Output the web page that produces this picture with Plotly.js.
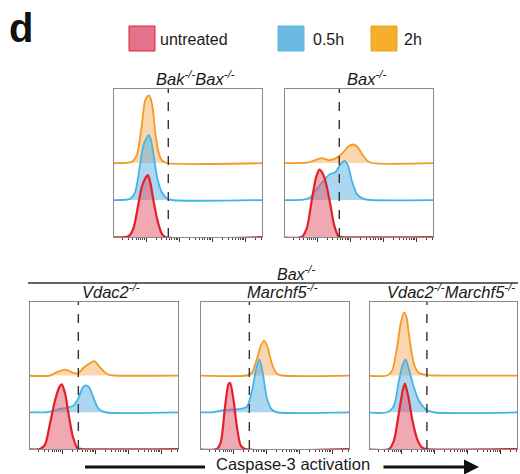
<!DOCTYPE html>
<html>
<head>
<meta charset="utf-8">
<script src="https://cdn.plot.ly/plotly-3.0.1.min.js"></script>
<style>html,body{margin:0;padding:0;background:#fff}#chart{width:520px;height:474px}</style>
</head>
<body>
<div id="chart"></div>
<script>
// ---- categories ----
const panelTitles = ['Bak<sup>-/-</sup>Bax<sup>-/-</sup>', 'Bax<sup>-/-</sup>', 'Vdac2<sup>-/-</sup>', 'Marchf5<sup>-/-</sup>', 'Vdac2<sup>-/-</sup>Marchf5<sup>-/-</sup>'];
const conditions = ['untreated', '0.5h', '2h'];
const groupLabel = 'Bax<sup>-/-</sup>';
const xAxisLabel = 'Caspase-3 activation';
// gate positions (log10 fluorescence)
const gates = [2.67, 2.67, 2.49, 2.49, 2.76];

// ---- histogram values: x = log10 fluorescence, y = counts ----
// Bak-/-Bax-/-
const bakbax_untreated_x = [1.465,1.616,1.768,1.869,1.970,2.051,2.121,2.222,2.343,2.475,2.576];
const bakbax_untreated_y = [2,23,90,135,158,167,149,99,45,9,0];
const bakbax_05h_x = [1.515,1.667,1.798,1.919,2.020,2.081,2.152,2.242,2.343,2.475,2.626,2.778];
const bakbax_05h_y = [3,21,84,147,169,176,160,111,57,21,5,0];
const bakbax_2h_x = [1.566,1.717,1.869,1.970,2.071,2.121,2.202,2.273,2.374,2.475,2.626];
const bakbax_2h_y = [3,21,102,169,183,178,147,84,30,7,0];
// Bax-/-
const bax_untreated_x = [1.535,1.687,1.838,1.970,2.071,2.172,2.273,2.394,2.515,2.646,2.747];
const bax_untreated_y = [0,23,99,162,182,171,144,90,32,2,0];
const bax_05h_x = [1.586,1.788,1.990,2.192,2.394,2.545,2.697,2.818,2.919,3.050,3.202,3.404,3.606];
const bax_05h_y = [1,7,30,52,70,75,95,106,97,52,16,3,0];
const bax_2h_x = [1.687,1.889,2.141,2.343,2.545,2.747,2.949,3.101,3.222,3.353,3.505,3.656];
const bax_2h_y = [1,6,13,8,12,25,45,50,43,25,7,0];
// Bax-/- Vdac2-/-
const vdac2_untreated_x = [1.333,1.485,1.636,1.788,1.919,1.990,2.091,2.192,2.323,2.465,2.596];
const vdac2_untreated_y = [0,12,70,133,169,176,151,97,34,2,0];
const vdac2_05h_x = [1.535,1.737,1.939,2.141,2.343,2.495,2.626,2.727,2.828,2.949,3.101,3.303];
const vdac2_05h_y = [0,4,9,12,18,39,68,73,66,39,9,0];
const vdac2_2h_x = [1.636,1.838,2.091,2.293,2.465,2.646,2.848,2.970,3.101,3.252,3.404,3.555];
const vdac2_2h_y = [0,9,16,9,5,21,34,39,27,12,2,0];
// Bax-/- Marchf5-/-
const marchf5_untreated_x = [1.505,1.626,1.758,1.859,1.909,2.010,2.111,2.232,2.364];
const marchf5_untreated_y = [0,18,117,176,180,135,63,9,0];
const marchf5_05h_x = [1.404,1.657,1.909,2.212,2.414,2.566,2.697,2.798,2.899,3.020,3.172,3.323];
const marchf5_05h_y = [0,5,7,9,15,56,119,144,105,38,7,0];
const marchf5_2h_x = [2.414,2.566,2.717,2.838,2.939,3.040,3.172,3.323,3.475];
const marchf5_2h_y = [0,7,45,81,95,77,32,5,0];
// Bax-/- Vdac2-/-Marchf5-/-
const dko_untreated_x = [1.606,1.758,1.909,2.030,2.091,2.192,2.313,2.465,2.616,2.768];
const dko_untreated_y = [0,23,99,162,178,144,81,27,4,0];
const dko_05h_x = [1.556,1.758,1.909,2.030,2.111,2.212,2.364,2.515,2.717,2.970];
const dko_05h_y = [0,18,86,131,144,117,68,32,9,0];
const dko_2h_x = [1.556,1.707,1.859,1.960,2.061,2.131,2.232,2.364,2.515,2.717,3.020];
const dko_2h_y = [0,14,81,140,171,162,99,32,7,2,0];

const panelData = [
  [[bakbax_untreated_x,bakbax_untreated_y],[bakbax_05h_x,bakbax_05h_y],[bakbax_2h_x,bakbax_2h_y]],
  [[bax_untreated_x,bax_untreated_y],[bax_05h_x,bax_05h_y],[bax_2h_x,bax_2h_y]],
  [[vdac2_untreated_x,vdac2_untreated_y],[vdac2_05h_x,vdac2_05h_y],[vdac2_2h_x,vdac2_2h_y]],
  [[marchf5_untreated_x,marchf5_untreated_y],[marchf5_05h_x,marchf5_05h_y],[marchf5_2h_x,marchf5_2h_y]],
  [[dko_untreated_x,dko_untreated_y],[dko_05h_x,dko_05h_y],[dko_2h_x,dko_2h_y]]
];

// ---- styles / layout ----
const W = 520, H = 474;
const px = v => v / W, py = v => 1 - v / H;
const lineColors = ['#e2202c', '#44b4e6', '#f39a26'];
const fillColors = ['rgba(226,88,108,0.52)', 'rgba(80,172,226,0.48)', 'rgba(245,165,75,0.45)'];
const legendFill = ['#e3738a', '#6cb9e1', '#f6ae2c'];
const legendLine = ['#e2202c', '#55b6e4', '#f0a024'];
const xRange = [1.03, 5.5];
const panelBoxes = [ // left, right, top, bottom in px
  [114, 262, 89, 237], [285, 433, 89, 237],
  [30, 178, 302, 449], [201, 349, 302, 449], [370, 517, 302, 449]
];
const yRanges = [[0, 400], [-100, 300], [-200, 200]]; // untreated, 0.5h, 2h stacked
const FONT = 'Liberation Sans, Arial, sans-serif';

const traces = [];
const layout = {
  width: W, height: H,
  margin: {l: 0, r: 0, t: 0, b: 0},
  paper_bgcolor: '#fff', plot_bgcolor: 'rgba(0,0,0,0)',
  showlegend: false,
  font: {family: FONT, color: '#1a1a1a'},
  shapes: [], annotations: []
};

panelBoxes.forEach((b, p) => {
  const xn = p + 1;
  const xa = 'xaxis' + (xn === 1 ? '' : xn);
  const xid = 'x' + (xn === 1 ? '' : xn);
  const yBase = 3 * p + 1;
  const yid = n => 'y' + (n === 1 ? '' : n);
  const yax = n => 'yaxis' + (n === 1 ? '' : n);
  layout[xa] = {
    type: 'log', range: xRange, domain: [px(b[0]), px(b[1])], anchor: yid(yBase),
    showline: true, mirror: true, linecolor: '#8a8a8a', linewidth: 1,
    ticks: 'outside', ticklen: 4, tickwidth: 1, tickcolor: '#333', dtick: 1,
    minor: {ticks: 'outside', ticklen: 2, tickwidth: 1, tickcolor: '#444', showgrid: false},
    showticklabels: false, showgrid: false, zeroline: false, layer: 'below traces', fixedrange: true
  };
  // stacking: 2h (base), 0.5h, untreated drawn on top
  [2, 1, 0].forEach((c, k) => {
    const n = yBase + k;
    const ax = {
      domain: [py(b[3]), py(b[2])], range: yRanges[c], anchor: xid,
      showgrid: false, zeroline: false, showticklabels: false, ticks: '', fixedrange: true
    };
    if (k === 0) {
      Object.assign(ax, {showline: true, mirror: true, linecolor: '#8a8a8a', linewidth: 1, layer: 'below traces'});
    } else {
      Object.assign(ax, {overlaying: yid(yBase), visible: false});
    }
    layout[yax(n)] = ax;
    const d = panelData[p][c];
    const xs = [Math.pow(10, xRange[0] - 0.2)].concat(d[0].map(v => Math.pow(10, v)), [Math.pow(10, xRange[1] + 0.2)]);
    const ys = [0].concat(d[1], [0]);
    traces.push({
      x: xs, y: ys, xaxis: xid, yaxis: yid(n), type: 'scatter', mode: 'lines',
      line: {color: lineColors[c], width: c === 0 ? 2.2 : 1.8, shape: 'spline', smoothing: 0.7},
      fill: 'tozeroy', fillcolor: fillColors[c], hoverinfo: 'skip', name: conditions[c]
    });
  });
  // gate line (dashed), drawn on the top-most (untreated) axis
  const gx = Math.pow(10, gates[p]);
  traces.push({
    x: [gx, gx], y: [yRanges[0][0], yRanges[0][1]], xaxis: xid, yaxis: yid(yBase + 2),
    type: 'scatter', mode: 'lines', line: {color: '#333', width: 1.4, dash: 'dash'},
    hoverinfo: 'skip', name: 'gate', cliponaxis: true
  });
  // panel title
  layout.annotations.push({
    xref: 'paper', yref: 'paper', x: px((b[0] + b[1]) / 2 + 7), y: py(b[2] - 11),
    xanchor: 'center', yanchor: 'middle', showarrow: false,
    text: '<i>' + panelTitles[p] + '</i>', font: {size: 16.5, family: FONT, color: '#1a1a1a'}
  });
});

// legend
const legendBoxes = [[129, 155, 158], [278, 304, 311], [371, 397, 402]];
legendBoxes.forEach((l, c) => {
  layout.shapes.push({
    type: 'rect', xref: 'paper', yref: 'paper', x0: px(l[0]), x1: px(l[1]), y0: py(51), y1: py(26),
    fillcolor: legendFill[c], line: {color: legendLine[c], width: 1}
  });
  layout.annotations.push({
    xref: 'paper', yref: 'paper', x: px(l[2]), y: py(39), xanchor: 'left', yanchor: 'middle',
    showarrow: false, text: conditions[c], font: {size: 16, family: FONT, color: '#1a1a1a'}
  });
});

// panel letter
layout.annotations.push({
  xref: 'paper', yref: 'paper', x: px(7), y: py(28), xanchor: 'left', yanchor: 'middle',
  showarrow: false, text: '<b>d</b>', font: {size: 40, family: FONT, color: '#111'}
});

// group label + bar
layout.annotations.push({
  xref: 'paper', yref: 'paper', x: px(296), y: py(273), xanchor: 'center', yanchor: 'middle',
  showarrow: false, text: '<i>' + groupLabel + '</i>', font: {size: 16, family: FONT, color: '#1a1a1a'}
});
layout.shapes.push({
  type: 'line', xref: 'paper', yref: 'paper', x0: px(28), x1: px(518), y0: py(283), y1: py(283),
  line: {color: '#333', width: 1.5}
});

// bottom axis label with arrow
layout.annotations.push({
  xref: 'paper', yref: 'paper', x: px(293), y: py(464), xanchor: 'center', yanchor: 'middle',
  showarrow: false, text: xAxisLabel, font: {size: 16.5, family: FONT, color: '#1a1a1a'}
});
layout.shapes.push({
  type: 'line', xref: 'paper', yref: 'paper', x0: px(85), x1: px(205), y0: py(467), y1: py(467),
  line: {color: '#111', width: 3}
});
layout.annotations.push({
  xref: 'paper', yref: 'paper', x: px(479), y: py(467), ax: -97, ay: 0,
  showarrow: true, arrowhead: 2, arrowsize: 1, arrowwidth: 3, arrowcolor: '#111', text: ''
});

Plotly.newPlot('chart', traces, layout, {staticPlot: true, displayModeBar: false});
</script>
</body>
</html>
